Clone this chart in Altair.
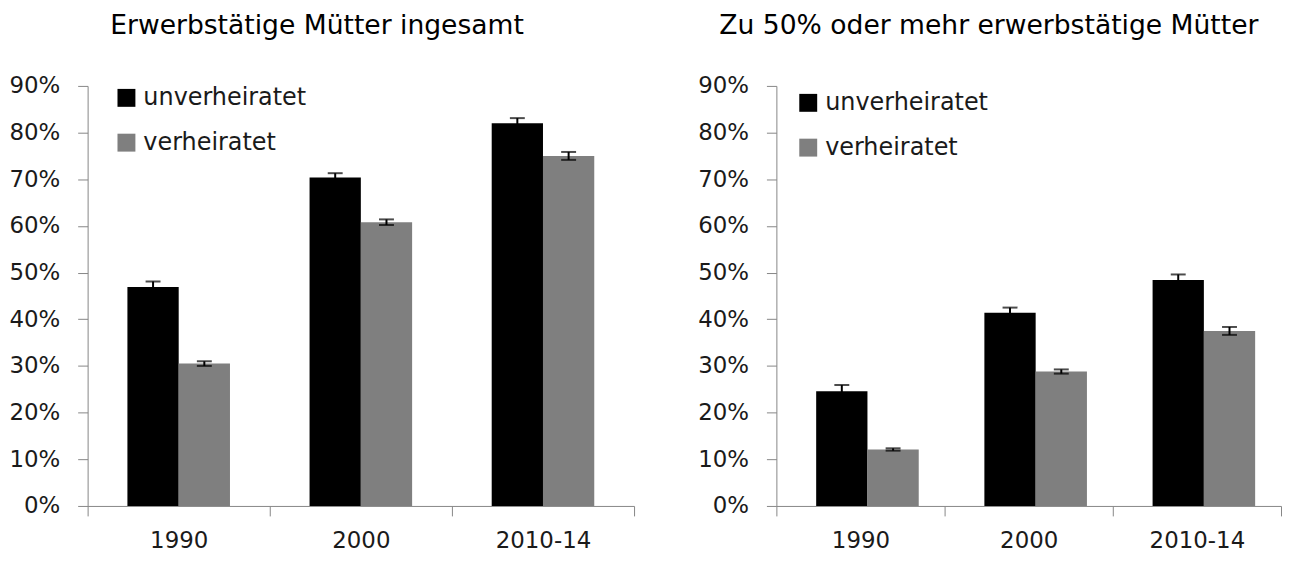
import altair as alt
import pandas as pd

years = ["1990", "2000", "2010-14"]
groups = ["unverheiratet", "verheiratet"]
colors = ["#000000", "#7f7f7f"]

title_left = "Erwerbstätige Mütter ingesamt"
title_right = "Zu 50% oder mehr erwerbstätige Mütter"

# Erwerbstätige Mütter insgesamt (percent)
total_unverh = [46.9, 70.4, 82.0]
total_unverh_err = [1.2, 0.9, 1.1]
total_verh = [30.5, 60.8, 75.0]
total_verh_err = [0.5, 0.6, 0.85]

# Zu 50% oder mehr erwerbstätige Mütter (percent)
half_unverh = [24.6, 41.4, 48.4]
half_unverh_err = [1.3, 1.1, 1.2]
half_verh = [12.1, 28.8, 37.5]
half_verh_err = [0.25, 0.45, 0.85]

y_ticks = [0, 0.1, 0.2, 0.3, 0.4, 0.5, 0.6, 0.7, 0.8, 0.9]

FONT = "DejaVu Sans"
AXIS_GREY = "#868686"
TEXT = "#1a1a1a"


def make_df(unv, unv_e, ver, ver_e):
    rows = []
    for i, y in enumerate(years):
        for g, vals, errs in ((groups[0], unv, unv_e), (groups[1], ver, ver_e)):
            v = vals[i] / 100.0
            e = errs[i] / 100.0
            rows.append({"Jahr": y, "Status": g, "Wert": v, "lo": v - e, "hi": v + e})
    return pd.DataFrame(rows)


def y_axis():
    return alt.Axis(
        values=y_ticks,
        format=".0%",
        tickSize=10,
        tickColor=AXIS_GREY,
        domainColor=AXIS_GREY,
        labelFont=FONT,
        labelFontSize=23,
        labelColor=TEXT,
        labelPadding=18,
        grid=False,
        title=None,
    )


def panel(df, title, width, lx, ly, tdx):
    base = alt.Chart(df).encode(
        x=alt.X(
            "Jahr:N",
            sort=years,
            title=None,
            scale=alt.Scale(paddingInner=0, paddingOuter=0),
            axis=alt.Axis(
                labelAngle=0,
                tickBand="extent",
                tickSize=10,
                tickColor=AXIS_GREY,
                domainColor=AXIS_GREY,
                labelFont=FONT,
                labelFontSize=23,
                labelColor=TEXT,
                labelPadding=14,
                grid=False,
            ),
        ),
        xOffset=alt.XOffset(
            "Status:N",
            sort=groups,
            scale=alt.Scale(paddingInner=0, paddingOuter=0.776),
        ),
    )
    yscale = alt.Scale(domain=[0, 0.9], nice=False)
    bars = base.mark_bar().encode(
        y=alt.Y("Wert:Q", scale=yscale, title=None, axis=y_axis()),
        color=alt.Color(
            "Status:N",
            sort=groups,
            scale=alt.Scale(domain=groups, range=colors),
            legend=alt.Legend(
                title=None,
                orient="none",
                legendX=lx,
                legendY=ly,
                direction="vertical",
                symbolType="square",
                symbolSize=324,
                symbolStrokeWidth=0,
                symbolOpacity=1,
                labelFont=FONT,
                labelFontSize=24,
                labelColor=TEXT,
                labelOffset=5,
                labelLimit=400,
                rowPadding=21,
                padding=0,
            ),
        ),
    )
    rules = base.mark_rule(color="black", strokeWidth=2).encode(
        y=alt.Y("lo:Q", scale=yscale, title=None, axis=y_axis()), y2="hi:Q"
    )
    cap_lo = base.mark_tick(color="black", thickness=2, size=15).encode(
        y=alt.Y("lo:Q", scale=yscale, title=None, axis=y_axis())
    )
    cap_hi = base.mark_tick(color="black", thickness=2, size=15).encode(
        y=alt.Y("hi:Q", scale=yscale, title=None, axis=y_axis())
    )
    return alt.layer(bars, rules, cap_lo, cap_hi).properties(
        width=width,
        height=422,
        title=alt.TitleParams(
            text=title,
            font=FONT,
            fontSize=26.7,
            fontWeight="normal",
            color="black",
            anchor="middle",
            dx=tdx,
            offset=35,
        ),
    )


left = panel(make_df(total_unverh, total_unverh_err, total_verh, total_verh_err),
             title_left, 549, 27, 0, -44)
right = panel(make_df(half_unverh, half_unverh_err, half_verh, half_verh_err),
              title_right, 507, 20, 5, -40)

chart = (
    alt.hconcat(left, right, spacing=62)
    .resolve_legend(color="independent")
    .properties(padding={"top": 4, "left": 0, "right": 0, "bottom": 0})
    .configure_view(stroke=None)
)

chart.save("out.html", embed_options={"renderer": "svg", "actions": False})
